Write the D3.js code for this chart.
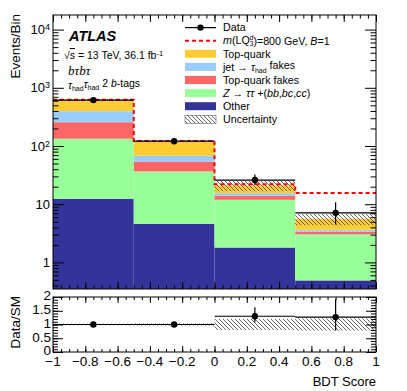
<!DOCTYPE html>
<html><head><meta charset="utf-8">
<script src="https://cdn.jsdelivr.net/npm/d3@7/dist/d3.min.js"></script>
<style>
body{margin:0;background:#fff;}
svg{display:block;font-family:"Liberation Sans",Arial,sans-serif;}
</style></head>
<body><svg id="c" width="407" height="391"></svg>
<script>
// ---- data ----
const binEdges = [-1, -0.5, 0, 0.5, 1];
const other    = [12.4, 4.6, 1.8, 0.49];
const zTauTau  = [121, 32, 10.1, 2.55];
const topFakes = [123, 17.5, 2.1, 0.33];
const jetFakes = [140, 14, 1.5, 0.27];
const topQuark = [225, 53, 5.5, 1.95];
const dataVals   = [615, 121, 26, 7.1];
const dataErrUp  = [25, 11, 6.3, 3.7];
const dataErrDn  = [25, 11, 4.6, 2.6];
const signalVals = [623, 122, 22, 15.5];
const uncRel     = [0.03, 0.04, 0.2, 0.22];
const ratioVals  = [1.0, 1.0, 1.3, 1.27];
const ratioErrUp = [0.04, 0.09, 0.33, 0.66];
const ratioErrDn = [0.04, 0.09, 0.22, 0.49];
const xTickVals = [-1, -0.8, -0.6, -0.4, -0.2, 0, 0.2, 0.4, 0.6, 0.8, 1];
const yMajor = [1, 10, 100, 1000, 10000];
const ratioTicks = [0, 0.5, 1, 1.5, 2];

const colors = {other:"#333399", zTauTau:"#99ff99", topFakes:"#ff6666", jetFakes:"#99ccff", topQuark:"#ffcc33"};

// ---- layout ----
const L = 53, R = 376, T = 15, B = 289, RT = 297, RB = 352;
const svg = d3.select("#c");
const x = d3.scaleLinear().domain([-1, 1]).range([L, R]);
const y = d3.scaleLog().domain([1, 1e4]).range([262.4, 29.6]);
const yr = d3.scaleLinear().domain([0, 2]).range([RB, RT]);

const defs = svg.append("defs");
const pat = defs.append("pattern").attr("id","hatch").attr("width",4).attr("height",4).attr("patternUnits","userSpaceOnUse");
pat.append("path").attr("d","M0,0L4,4M-1,3L1,5M3,-1L5,1").attr("stroke","#444").attr("stroke-width",0.8).attr("fill","none");
defs.append("clipPath").attr("id","clipMain").append("rect").attr("x",L).attr("y",T).attr("width",R-L).attr("height",B-T);
defs.append("clipPath").attr("id","clipRatio").append("rect").attr("x",L).attr("y",RT).attr("width",R-L).attr("height",RB-RT);

const bins = d3.range(4).map(i => ({i, x0: binEdges[i], x1: binEdges[i+1], other: other[i], zTauTau: zTauTau[i], topFakes: topFakes[i], jetFakes: jetFakes[i], topQuark: topQuark[i]}));
const keys = ["other","zTauTau","topFakes","jetFakes","topQuark"];
const stack = d3.stack().keys(keys)(bins);
const totals = bins.map(b => keys.reduce((s,k)=>s+b[k],0));

const gMain = svg.append("g").attr("clip-path","url(#clipMain)");
stack.forEach(layer => {
  gMain.selectAll(null).data(layer).enter().append("rect")
    .attr("x", d => x(d.data.x0))
    .attr("width", d => x(d.data.x1) - x(d.data.x0))
    .attr("y", d => y(d[1]))
    .attr("height", d => (d[0] > 0 ? y(d[0]) : B + 1) - y(d[1]))
    .attr("fill", colors[layer.key]);
});
// uncertainty band
gMain.selectAll(null).data(bins).enter().append("rect")
  .attr("x", d => x(d.x0)).attr("width", d => x(d.x1)-x(d.x0))
  .attr("y", d => y(totals[d.i]*(1+uncRel[d.i])))
  .attr("height", d => y(totals[d.i]*(1-uncRel[d.i])) - y(totals[d.i]*(1+uncRel[d.i])))
  .attr("fill","url(#hatch)");
// signal dashed
const sigPts = [];
bins.forEach(b => { sigPts.push([b.x0, signalVals[b.i]]); sigPts.push([b.x1, signalVals[b.i]]); });
gMain.append("path").attr("d", d3.line().x(d=>x(d[0])).y(d=>y(d[1]))(sigPts))
  .attr("fill","none").attr("stroke","#ff0000").attr("stroke-width",2).attr("stroke-dasharray","4,3");
// data
gMain.selectAll(null).data(bins).enter().append("line")
  .attr("x1", d=>x(d.x0)).attr("x2", d=>x(d.x1))
  .attr("y1", d=>y(dataVals[d.i])).attr("y2", d=>y(dataVals[d.i]))
  .attr("stroke","#000").attr("stroke-width",1.2);
gMain.selectAll(null).data(bins).enter().append("line")
  .attr("x1", d=>x((d.x0+d.x1)/2)).attr("x2", d=>x((d.x0+d.x1)/2))
  .attr("y1", d=>y(dataVals[d.i]+dataErrUp[d.i])).attr("y2", d=>y(dataVals[d.i]-dataErrDn[d.i]))
  .attr("stroke","#000").attr("stroke-width",1.2);
gMain.selectAll(null).data(bins).enter().append("circle")
  .attr("cx", d=>x((d.x0+d.x1)/2)).attr("cy", d=>y(dataVals[d.i])).attr("r",3.2).attr("fill","#000");

// ratio panel
const gR = svg.append("g").attr("clip-path","url(#clipRatio)");
gR.selectAll(null).data(bins).enter().append("rect")
  .attr("x", d => x(d.x0)).attr("width", d => x(d.x1)-x(d.x0))
  .attr("y", d => yr(1+uncRel[d.i])).attr("height", d => yr(1-uncRel[d.i]) - yr(1+uncRel[d.i]))
  .attr("fill","url(#hatch)");
gR.selectAll(null).data(bins).enter().append("line")
  .attr("x1", d=>x(d.x0)).attr("x2", d=>x(d.x1))
  .attr("y1", d=>yr(ratioVals[d.i])).attr("y2", d=>yr(ratioVals[d.i]))
  .attr("stroke","#000").attr("stroke-width",1.2);
gR.selectAll(null).data(bins).enter().append("line")
  .attr("x1", d=>x((d.x0+d.x1)/2)).attr("x2", d=>x((d.x0+d.x1)/2))
  .attr("y1", d=>yr(ratioVals[d.i]+ratioErrUp[d.i])).attr("y2", d=>yr(ratioVals[d.i]-ratioErrDn[d.i]))
  .attr("stroke","#000").attr("stroke-width",1.2);
gR.selectAll(null).data(bins).enter().append("circle")
  .attr("cx", d=>x((d.x0+d.x1)/2)).attr("cy", d=>yr(ratioVals[d.i])).attr("r",3.2).attr("fill","#000");

// ---- axes / ticks ----
function ticks(g, axis){ g.call(axis); g.select(".domain").remove(); g.selectAll("line").attr("stroke","#000").attr("stroke-width",1); g.selectAll("text").remove(); }
const xMinor = d3.range(0,41).map(i => -1 + i*0.05);
[[B, d3.axisBottom, [-7,-3.5]], [T, d3.axisTop, [-7,-3.5]], [RB, d3.axisBottom, [-6,-3]], [RT, d3.axisTop, [-6,-3]]].forEach(([yy, ax, sz]) => {
  ticks(svg.append("g").attr("transform",`translate(0,${yy})`), ax(x).tickValues(xTickVals).tickSize(sz[0]));
  ticks(svg.append("g").attr("transform",`translate(0,${yy})`), ax(x).tickValues(xMinor).tickSize(sz[1]));
});
const yMinor = [];
[0.1,1,10,100,1000].forEach(p => d3.range(2,10).forEach(m => { const v=m*p; if (y(v) <= B && y(v) >= T) yMinor.push(v); }));
[[L, d3.axisLeft], [R, d3.axisRight]].forEach(([xx, ax]) => {
  ticks(svg.append("g").attr("transform",`translate(${xx},0)`), ax(y).tickValues(yMajor).tickSize(-11));
  ticks(svg.append("g").attr("transform",`translate(${xx},0)`), ax(y).tickValues(yMinor).tickSize(-5.5));
  ticks(svg.append("g").attr("transform",`translate(${xx},0)`), ax(yr).tickValues(ratioTicks).tickSize(-10));
  ticks(svg.append("g").attr("transform",`translate(${xx},0)`), ax(yr).tickValues(d3.range(0,21).map(i=>i*0.1)).tickSize(-5));
});
// frames
svg.append("rect").attr("x",L).attr("y",T).attr("width",R-L).attr("height",B-T).attr("fill","none").attr("stroke","#000").attr("stroke-width",1);
svg.append("rect").attr("x",L).attr("y",RT).attr("width",R-L).attr("height",RB-RT).attr("fill","none").attr("stroke","#000").attr("stroke-width",1);

// y labels main
yMajor.forEach(v => {
  const t = svg.append("text").attr("x", L-3).attr("y", y(v)).attr("dy","0.35em").attr("text-anchor","end").attr("font-size",13);
  const e = Math.round(Math.log10(v));
  if (e === 0) t.text("1");
  else if (e === 1) t.text("10");
  else { t.append("tspan").text("10"); t.append("tspan").attr("dy","-0.45em").attr("font-size",9).text(String(e)); }
});
// ratio y labels
ratioTicks.forEach(v => {
  svg.append("text").attr("x", L-2).attr("y", yr(v) - 1.5).attr("dy","0.36em").attr("text-anchor","end").attr("font-size",13.5)
    .text(d3.format("~g")(v));
});
// x labels
xTickVals.forEach(v => {
  svg.append("text").attr("x", x(v)).attr("y", 366).attr("text-anchor","middle").attr("font-size",13.5)
    .text(Math.abs(v) < 1e-9 ? "0" : d3.format("~g")(v));
});
// axis titles
svg.append("text").attr("transform","translate(15,14) rotate(-90)").attr("text-anchor","end").attr("dy","0.35em").attr("font-size",13.5).text("Events/Bin");
svg.append("text").attr("transform","translate(15,296) rotate(-90)").attr("text-anchor","end").attr("dy","0.35em").attr("font-size",13.5).text("Data/SM");
svg.append("text").attr("x",376).attr("y",386).attr("text-anchor","end").attr("font-size",13).text("BDT Score");

// labels
svg.append("text").attr("x",69).attr("y",41).attr("font-size",14.5).attr("font-weight","bold").attr("font-style","italic").text("ATLAS");
const s1 = svg.append("text").attr("x",64).attr("y",59).attr("font-size",10.5);
s1.append("tspan").text("√");
s1.append("tspan").attr("text-decoration","overline").text("s");
s1.append("tspan").text(" = 13 TeV, 36.1 fb");
s1.append("tspan").attr("dy","-0.45em").attr("font-size",7.5).text("-1");
svg.append("text").attr("x",68).attr("y",75).attr("font-size",13).attr("font-style","italic").attr("font-family","Liberation Serif").text("bτbτ");
const s3 = svg.append("text").attr("x",68).attr("y",89).attr("font-size",10.5);
s3.append("tspan").attr("font-style","italic").text("τ");
s3.append("tspan").attr("dy","0.35em").attr("font-size",7).text("had");
s3.append("tspan").attr("dy","-0.35em").attr("font-style","italic").text("τ");
s3.append("tspan").attr("dy","0.35em").attr("font-size",7).text("had");
s3.append("tspan").attr("dy","-0.35em").text(" 2 ");
s3.append("tspan").attr("font-style","italic").text("b");
s3.append("tspan").text("-tags");

// legend
const lx0 = 185, lx1 = 216, tx = 223, ly0 = 27.6, ldy = 13.1;
const legRow = i => ly0 + i*ldy;
svg.append("line").attr("x1",lx0).attr("x2",lx1).attr("y1",legRow(0)).attr("y2",legRow(0)).attr("stroke","#000").attr("stroke-width",1.2);
svg.append("circle").attr("cx",(lx0+lx1)/2).attr("cy",legRow(0)).attr("r",3.2).attr("fill","#000");
svg.append("line").attr("x1",lx0).attr("x2",lx1).attr("y1",legRow(1)).attr("y2",legRow(1)).attr("stroke","#ff0000").attr("stroke-width",2).attr("stroke-dasharray","4,3");
const boxKeys = ["topQuark","jetFakes","topFakes","zTauTau","other"];
boxKeys.forEach((k,j) => {
  svg.append("rect").attr("x",lx0).attr("y",legRow(j+2)-4).attr("width",lx1-lx0).attr("height",8).attr("fill",colors[k]);
});
svg.append("rect").attr("x",lx0).attr("y",legRow(7)-4).attr("width",lx1-lx0).attr("height",8).attr("fill","url(#hatch)").attr("stroke","#666").attr("stroke-width",0.6);
const lt = i => svg.append("text").attr("x",tx).attr("y",legRow(i)).attr("dy","0.35em").attr("font-size",10.7);
lt(0).text("Data");
const t1 = lt(1);
t1.append("tspan").attr("font-style","italic").text("m");
t1.append("tspan").text("(LQ");
t1.append("tspan").attr("dy","0.3em").attr("font-size",6.5).text("3");
t1.append("tspan").attr("dx","-3.6").attr("dy","-0.95em").attr("font-size",6.5).attr("font-style","italic").text("d");
t1.append("tspan").attr("dy","0.4em").text(")=800 GeV, ");
t1.append("tspan").attr("font-style","italic").text("B");
t1.append("tspan").text("=1");
lt(2).text("Top-quark");
const t3 = lt(3);
t3.append("tspan").text("jet → ");
t3.append("tspan").attr("font-style","italic").text("τ");
t3.append("tspan").attr("dy","0.35em").attr("font-size",7).text("had");
t3.append("tspan").attr("dy","-0.35em").text(" fakes");
lt(4).text("Top-quark fakes");
const t5 = lt(5);
t5.append("tspan").attr("font-style","italic").text("Z");
t5.append("tspan").text(" → ");
t5.append("tspan").attr("font-style","italic").text("ττ");
t5.append("tspan").text(" +(");
t5.append("tspan").attr("font-style","italic").text("bb");
t5.append("tspan").text(",");
t5.append("tspan").attr("font-style","italic").text("bc");
t5.append("tspan").text(",");
t5.append("tspan").attr("font-style","italic").text("cc");
t5.append("tspan").text(")");
lt(6).text("Other");
lt(7).text("Uncertainty");
</script>
</body></html>
